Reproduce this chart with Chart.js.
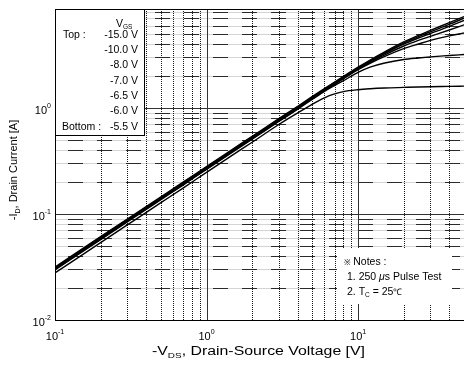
<!DOCTYPE html>
<html><head><meta charset="utf-8">
<script src="https://cdn.jsdelivr.net/npm/chart.js@4"></script>
<style>html,body{margin:0;padding:0;background:#fff}canvas{display:block}</style>
</head><body>
<canvas id="c" width="464" height="373"></canvas>
<script>
// -V_DS values [V]
const vds = [0.1,0.2,0.3,0.5,0.7,1,1.5,2,3,4,5,6,7,8,10,12,15,20,25,30,40,50];
// -I_D values [A] per gate voltage
const idVgs15  = [0.0316,0.0611,0.0897,0.1453,0.1996,0.2810,0.4126,0.5405,0.794,1.040,1.287,1.527,1.762,1.99,2.43,2.84,3.39,4.20,4.85,5.40,6.40,7.30];
const idVgs10  = [0.0311,0.0602,0.0884,0.1431,0.1966,0.2768,0.4064,0.5324,0.782,1.024,1.268,1.504,1.736,1.96,2.39,2.79,3.32,4.10,4.72,5.24,6.16,7.05];
const idVgs8   = [0.0307,0.0593,0.0870,0.1409,0.1936,0.2726,0.4002,0.5243,0.770,1.009,1.248,1.481,1.709,1.93,2.36,2.74,3.26,4.00,4.58,5.05,5.90,6.70];
const idVgs7   = [0.0303,0.0587,0.0861,0.1395,0.1916,0.2698,0.3961,0.5189,0.762,0.998,1.236,1.466,1.692,1.91,2.33,2.70,3.18,3.85,4.35,4.75,5.45,6.10];
const idVgs6_5 = [0.0300,0.0580,0.0852,0.1380,0.1896,0.2670,0.3920,0.5135,0.754,0.988,1.223,1.451,1.674,1.89,2.30,2.64,3.07,3.63,4.02,4.35,4.80,5.10];
const idVgs6   = [0.0297,0.0574,0.0843,0.1366,0.1876,0.2641,0.3878,0.5081,0.746,0.978,1.210,1.435,1.630,1.81,2.17,2.43,2.66,2.87,2.97,3.04,3.13,3.20];
const idVgs5_5 = [0.0278,0.0538,0.0789,0.1279,0.1756,0.2473,0.3631,0.4756,0.699,0.900,1.090,1.250,1.360,1.43,1.49,1.52,1.545,1.565,1.58,1.59,1.60,1.61];

const gateLabels = ['-15.0 V','-10.0 V','-8.0 V','-7.0 V','-6.5 V','-6.0 V','-5.5 V'];
const seriesList = [idVgs15, idVgs10, idVgs8, idVgs7, idVgs6_5, idVgs6, idVgs5_5];

const xTickValues = [0.1, 1, 10];
const xTickExp = ['-1','0','1'];
const yTickValues = [0.01, 0.1, 1];
const yTickExp = ['-2','-1','0'];

const xMin = 0.1, xMax = 50, yMin = 0.01, yMax = 8.6;
const FONT = '"Liberation Sans", Arial, Helvetica, sans-serif';

function drawRuns(ctx, parts, x, y, align, sx) {
  // parts: [text, size, dy, italic]
  sx = sx || 1;
  let w = 0;
  for (const p of parts) { ctx.font = (p[3]?'italic ':'') + p[1] + 'px ' + FONT; w += ctx.measureText(p[0]).width; }
  let cx = x;
  if (align === 'right') cx = x - w*sx;
  else if (align === 'center') cx = x - w*sx/2;
  ctx.save();
  ctx.translate(cx, y);
  ctx.scale(sx, 1);
  let px = 0;
  ctx.textBaseline = 'alphabetic';
  ctx.textAlign = 'left';
  for (const p of parts) {
    ctx.font = (p[3]?'italic ':'') + p[1] + 'px ' + FONT;
    ctx.fillText(p[0], px, p[2]);
    px += ctx.measureText(p[0]).width;
  }
  ctx.restore();
  return w;
}
function widthOf(ctx, parts){ let w=0; for (const p of parts){ ctx.font=(p[3]?'italic ':'')+p[1]+'px '+FONT; w+=ctx.measureText(p[0]).width;} return w; }

function hline(ctx, x1, x2, y){ ctx.beginPath(); ctx.moveTo(x1,y); ctx.lineTo(x2,y); ctx.stroke(); }
function vline(ctx, x, y1, y2){ ctx.beginPath(); ctx.moveTo(x,y1); ctx.lineTo(x,y2); ctx.stroke(); }

const gridPlugin = {
  id: 'customGrid',
  beforeDatasetsDraw(chart) {
    const {ctx, chartArea: a, scales: {x, y}} = chart;
    ctx.save();
    ctx.beginPath(); ctx.rect(a.left, a.top, a.right - a.left, a.bottom - a.top); ctx.clip();
    ctx.lineWidth = 1;
    // horizontal minor (dashed)
    for (let e = -2; e <= 0; e++) for (let m = 2; m <= 9; m++) {
      const v = m * Math.pow(10, e); if (v > yMax) continue;
      const py = Math.round(y.getPixelForValue(v)) + 0.5;
      ctx.setLineDash([]); ctx.strokeStyle = '#d4d4d4'; hline(ctx, a.left, a.right, py);
      ctx.setLineDash([15, 14]); ctx.lineDashOffset = 16; ctx.strokeStyle = '#2a2a2a'; hline(ctx, a.left, a.right, py);
    }
    // vertical minor (dotted)
    for (let e = -1; e <= 1; e++) for (let m = 2; m <= 9; m++) {
      const v = m * Math.pow(10, e); if (v > xMax) continue;
      const px = Math.round(x.getPixelForValue(v)) + 0.5;
      ctx.setLineDash([1, 1]); ctx.lineDashOffset = 0; ctx.strokeStyle = '#1a1a1a'; vline(ctx, px, a.top, a.bottom);
    }
    ctx.setLineDash([]);
    // major lines
    ctx.strokeStyle = '#333';
    for (const v of yTickValues) { const py = Math.round(y.getPixelForValue(v)) + 0.5; hline(ctx, a.left, a.right, py); }
    for (const v of xTickValues) { const px = Math.round(x.getPixelForValue(v)) + 0.5; vline(ctx, px, a.top, a.bottom); }
    ctx.restore();
  },
  afterDatasetsDraw(chart) {
    const {ctx, chartArea: a, scales: {x, y}} = chart;
    ctx.save();
    // frame
    ctx.strokeStyle = '#000'; ctx.lineWidth = 1; ctx.setLineDash([]);
    hline(ctx, a.left, a.right, a.top + 0.5);
    hline(ctx, a.left, a.right, a.bottom + 0.5);
    vline(ctx, a.left + 0.5, a.top, a.bottom + 1);

    // legend box
    ctx.fillStyle = '#fff';
    ctx.fillRect(a.left + 0.5, a.top + 0.5, 89, 126);
    ctx.strokeRect(a.left + 0.5, a.top + 0.5, 89, 126);
    ctx.fillStyle = '#000';
    drawRuns(ctx, [['V', 10.5, 0], ['GS', 6.5, 2]], 116, 27, 'left');
    const baselines = [38, 53, 68, 84, 99, 114, 130];
    gateLabels.forEach((t, i) => drawRuns(ctx, [[t, 10.5, 0]], 138, baselines[i], 'right'));
    drawRuns(ctx, [['Top :', 10.5, 0]], 63, 38, 'left');
    drawRuns(ctx, [['Bottom :', 10.5, 0]], 62, 130, 'left');

    // notes box
    ctx.fillStyle = '#fff';
    ctx.fillRect(337, 248, 115, 56);
    ctx.fillStyle = '#000';
    drawRuns(ctx, [['※ ', 8, 0], ['Notes :', 10.5, 0]], 344, 265, 'left');
    drawRuns(ctx, [['1. 250 ', 10.5, 0], ['μ', 10.5, 0, true], ['s Pulse Test', 10.5, 0]], 347, 280, 'left');
    drawRuns(ctx, [['2. T', 10.5, 0], ['C', 6.5, 2], [' = 25', 10.5, 0], ['℃', 9, 0]], 347, 295, 'left');

    // x tick labels
    xTickValues.forEach((v, i) => {
      const px = x.getPixelForValue(v);
      const parts = [['10', 11, 0], [xTickExp[i], 7, -6]];
      drawRuns(ctx, parts, px, 340, 'center');
    });
    // y tick labels
    yTickValues.forEach((v, i) => {
      const py = y.getPixelForValue(v);
      drawRuns(ctx, [['10', 11, 0], [yTickExp[i], 7, -6]], 51, py + 6, 'right');
    });

    // x title (stretched horizontally)
    const xParts = [['-V', 12, 0], ['DS', 7.5, 3], [', Drain-Source Voltage [V]', 12, 0]];
    const xw = widthOf(ctx, xParts);
    drawRuns(ctx, xParts, 152, 355, 'left', 213 / xw);

    // y title (rotated)
    ctx.save();
    ctx.translate(17, 170);
    ctx.rotate(-Math.PI / 2);
    drawRuns(ctx, [['-I', 11, 0], ['D', 7, 3], [', Drain Current [A]', 11, 0]], 0, 0, 'center');
    ctx.restore();

    ctx.restore();
  }
};

const datasets = seriesList.map((arr, i) => ({
  label: gateLabels[i],
  data: vds.map((v, j) => ({x: v, y: arr[j]})),
  borderColor: '#000',
  backgroundColor: '#000',
  borderWidth: 1.4,
  pointRadius: 0,
  fill: false,
  cubicInterpolationMode: 'monotone'
}));

new Chart(document.getElementById('c'), {
  type: 'line',
  data: { datasets },
  options: {
    responsive: false,
    animation: false,
    devicePixelRatio: 1,
    layout: { padding: { top: 9, left: 0, right: 0, bottom: 0 } },
    plugins: { legend: { display: false }, tooltip: { enabled: false } },
    scales: {
      x: {
        type: 'logarithmic', min: xMin, max: xMax,
        grid: { display: false }, border: { display: false },
        ticks: { display: false },
        afterFit: s => { s.height = 53; }
      },
      y: {
        type: 'logarithmic', min: yMin, max: yMax,
        grid: { display: false }, border: { display: false },
        ticks: { display: false },
        afterFit: s => { s.width = 55; }
      }
    }
  },
  plugins: [gridPlugin]
});
</script>
</body></html>
